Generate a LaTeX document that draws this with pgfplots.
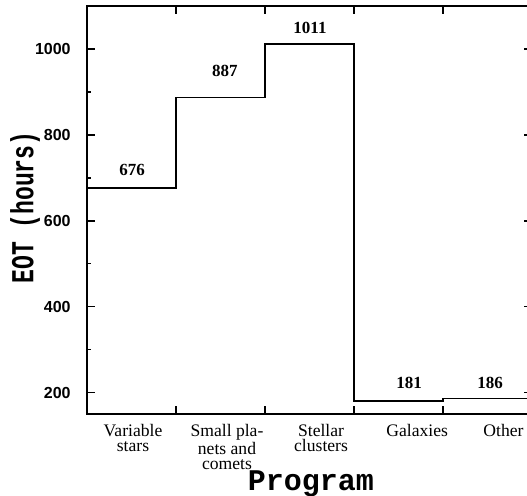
\documentclass[border=0pt]{standalone}
\usepackage{fontspec}
\setmainfont{Liberation Serif}
\setsansfont{Liberation Sans}
\setmonofont{Liberation Mono}
\usepackage{graphicx}
\usepackage{pgfplots}
\pgfplotsset{compat=1.18}
\begin{document}
\begin{tikzpicture}
\begin{axis}[
  name=ax,
  scale only axis,
  width=222.5pt, height=204pt,
  xmin=0, xmax=5, ymin=150, ymax=1100,
  axis line style={line width=1pt},
  tick align=inside,
  xtick={1,2,3,4}, xticklabels={},
  major tick length=4pt, minor tick length=2.2pt,
  every tick/.style={line width=0.8pt, black},
  ytick={200,400,600,800,1000},
  minor y tick num=1,
  /pgf/number format/assume math mode=true,
  /pgf/number format/set thousands separator={},
  yticklabel style={font=\fontsize{8}{8}\selectfont\sffamily\bfseries, inner sep=0pt, anchor=east, xshift=-8pt},
  extra x ticks={0.517,1.573,2.63,3.71,4.68},
  extra x tick labels={{Variable\\stars},{Small pla-\\nets and\\comets},{Stellar\\clusters},{Galaxies},{Other}},
  extra x tick style={major tick length=0pt, xticklabel style={font=\fontsize{8.8}{7.6}\selectfont\rmfamily, align=center, anchor=north, inner sep=0pt, yshift=-5pt}},
  xlabel={Program},
  ylabel={\scalebox{0.72}[1]{EOT (hours)}},
  every axis x label/.style={at={(rel axis cs:0.503,-0.1887)}, anchor=base, font=\fontsize{15}{15}\selectfont\ttfamily\bfseries},
  every axis y label/.style={at={(rel axis cs:-0.139,0.506)}, anchor=center, rotate=90, font=\fontsize{16}{16}\selectfont\ttfamily\bfseries},
]
\addplot[const plot, black, line width=0.9pt, mark=none] coordinates {
  (0,676) (1,887) (2,1011) (3,181) (4,186) (5,186)
};
\addplot[draw=none, mark=none, nodes near coords, point meta=explicit symbolic,
  nodes near coords align={anchor=base},
  every node near coord/.append style={inner sep=0pt, font=\fontsize{8.5}{8.5}\selectfont\rmfamily\bfseries}]
  table[meta=lab] {
x y lab
0.506 705 676
1.55 935 887
2.506 1037 1011
3.62 209 181
4.53 209 186
};
\end{axis}
\pgfresetboundingbox
\useasboundingbox ([shift={(-43.5pt,-40.5pt)}]ax.south west) rectangle ([shift={(220pt,207pt)}]ax.south west);
\end{tikzpicture}
\end{document}
